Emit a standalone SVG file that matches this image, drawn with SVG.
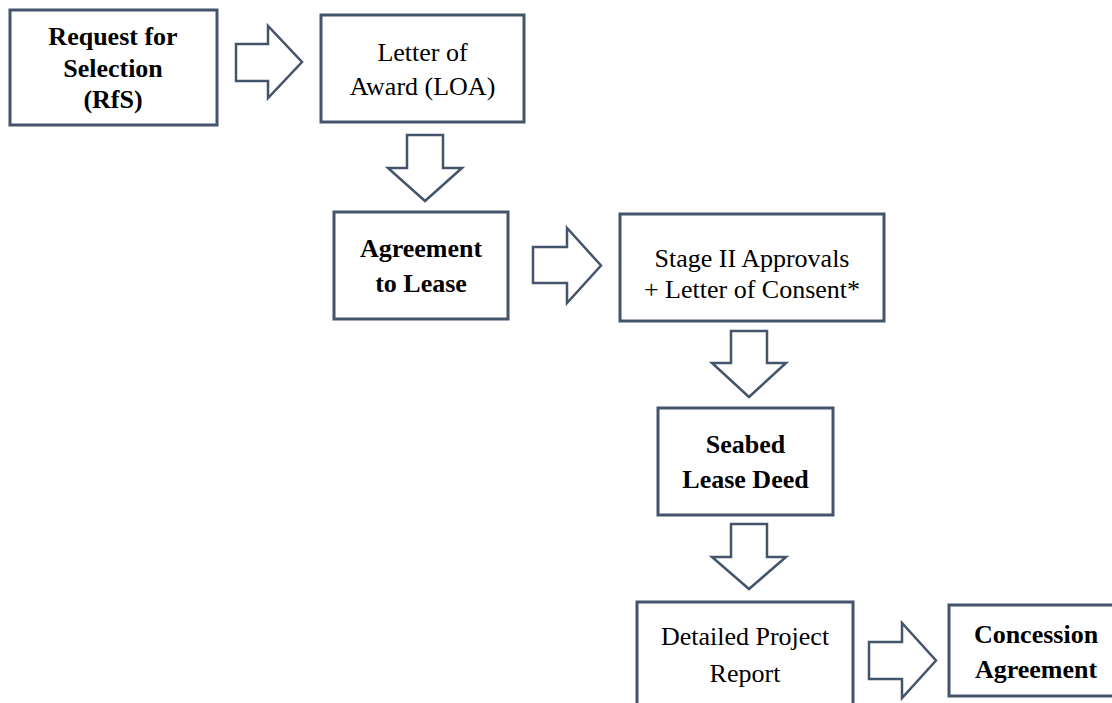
<svg xmlns="http://www.w3.org/2000/svg" width="1112" height="703" viewBox="0 0 1112 703">
<style>
.box{fill:#fff;stroke:#44546A;stroke-width:3}
.arr{fill:#fff;stroke:#44546A;stroke-width:2.5;stroke-linejoin:miter}
text{font-family:"Liberation Serif","Times New Roman",serif;font-size:26px;fill:#000;text-anchor:middle}
.b{font-weight:bold}
</style>
<rect width="1112" height="703" fill="#fff"/>
<g id="connectors">
<polygon class="arr" points="236,44 268,44 268,26 302,62 268,98 268,81 236,81"/>
<polygon class="arr" points="407,135 443,135 443,168 462,168 425,201 388,168 407,168"/>
<polygon class="arr" points="533,247 567,247 567,228 601,265.5 567,303 567,283 533,283"/>
<polygon class="arr" points="731,331 767,331 767,363 786,363 749,397 712,363 731,363"/>
<polygon class="arr" points="731,524 767,524 767,557 786,557 749,589 712,557 731,557"/>
<polygon class="arr" points="869,642 902,642 902,623 936,660.5 902,698 902,679 869,679"/>
</g>
<g id="rfs">
<rect class="box" x="10" y="10" width="207" height="115"/>
<text class="b" x="113" y="45">Request for</text>
<text class="b" x="113" y="77">Selection</text>
<text class="b" x="113" y="108">(RfS)</text>
</g>
<g id="loa">
<rect class="box" x="321" y="15" width="203" height="107"/>
<text x="422.5" y="61">Letter of</text>
<text x="422.5" y="95">Award (LOA)</text>
</g>
<g id="agreement">
<rect class="box" x="334" y="212" width="174" height="107"/>
<text class="b" x="421" y="257">Agreement</text>
<text class="b" x="421" y="292">to Lease</text>
</g>
<g id="stage2">
<rect class="box" x="620" y="214" width="264" height="107"/>
<text x="752" y="267">Stage II Approvals</text>
<text x="752" y="298">+ Letter of Consent*</text>
</g>
<g id="seabed">
<rect class="box" x="658" y="408" width="175" height="107"/>
<text class="b" x="745.5" y="453">Seabed</text>
<text class="b" x="745.5" y="488">Lease Deed</text>
</g>
<g id="dpr">
<rect class="box" x="637" y="602" width="216" height="120"/>
<text x="745" y="645">Detailed Project</text>
<text x="745" y="682">Report</text>
</g>
<g id="concession">
<rect class="box" x="949" y="605" width="176" height="91"/>
<text class="b" x="1036" y="643">Concession</text>
<text class="b" x="1036" y="678">Agreement</text>
</g>
</svg>
